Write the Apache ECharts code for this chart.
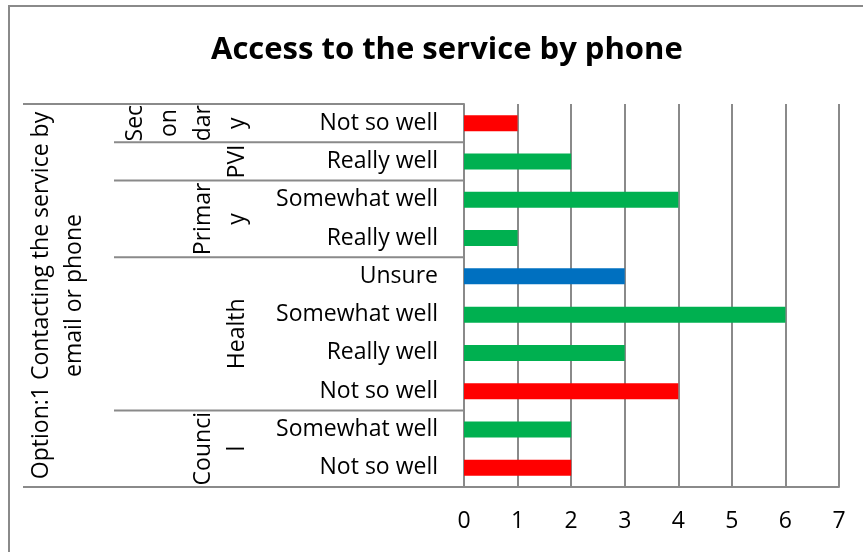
<!DOCTYPE html>
<html>
<head>
<meta charset="utf-8">
<script src="https://cdn.jsdelivr.net/npm/echarts@6/dist/echarts.min.js"></script>
<style>html,body{margin:0;padding:0;background:#fff}#c{width:863px;height:552px}</style>
</head>
<body>
<div id="c"></div>
<script>
// Rows listed top to bottom
var categories = ["Not so well","Really well","Somewhat well","Really well","Unsure","Somewhat well","Really well","Not so well","Somewhat well","Not so well"];
var values = [1,2,4,1,3,6,3,4,2,2];
// Groups (top to bottom), with the number of rows each spans; labels wrapped as in the reference
var groupLabels = ["Sec\non\ndar\ny","PVI","Primar\ny","Health","Counci\nl"];
var groupSizes = [1,1,2,4,2];
var outerLabel = "Option:1 Contacting the service by\nemail or phone";
var xTicks = [0,1,2,3,4,5,6,7];
var titleText = "Access to the service by phone";

var colorMap = {"Not so well":"#FF0000","Really well":"#00B050","Somewhat well":"#00B050","Unsure":"#0070C0"};
var FONT = "Open Sans";
var GRAY = "#8a8a8a";
var FS = 23;

var chart = echarts.init(document.getElementById('c'));
chart.setOption({
  animation:false,
  backgroundColor:'#fff',
  textStyle:{fontFamily:FONT},
  title:{text:titleText,left:206,top:30,textStyle:{fontFamily:FONT,fontWeight:'bold',fontSize:31,color:'#000'}},
  grid:{left:464,right:24,top:104,bottom:65,containLabel:false},
  xAxis:{type:'value',min:xTicks[0],max:xTicks[xTicks.length-1],interval:1,
    axisLine:{show:true,lineStyle:{color:GRAY,width:2}},
    axisTick:{show:false},
    axisLabel:{fontFamily:FONT,fontSize:FS,color:'#000',margin:23},
    splitLine:{show:true,lineStyle:{color:GRAY,width:2}}},
  yAxis:{type:'category',inverse:true,data:categories,
    axisLine:{show:true,lineStyle:{color:GRAY,width:2}},
    axisTick:{show:false},
    axisLabel:{fontFamily:FONT,fontSize:FS,color:'#000',margin:26}},
  series:[{type:'bar',barWidth:16,
    data:values.map(function(v,i){return {value:v,itemStyle:{color:colorMap[categories[i]]}};})}]
});

function drawGraphics(){
  var c0 = chart.convertToPixel({yAxisIndex:0},0);
  var c1 = chart.convertToPixel({yAxisIndex:0},1);
  var band = c1 - c0;
  var topY = c0 - band/2;
  var n = categories.length;
  var botY = topY + band*n;
  var axisX = chart.convertToPixel({xAxisIndex:0},0);
  var els = [];
  els.push({type:'rect',shape:{x:9,y:6,width:900,height:600},style:{fill:null,stroke:GRAY,lineWidth:2},silent:true,z:100});
  els.push({type:'line',shape:{x1:23,y1:topY,x2:axisX,y2:topY},style:{stroke:GRAY,lineWidth:2}});
  els.push({type:'line',shape:{x1:23,y1:botY,x2:axisX,y2:botY},style:{stroke:GRAY,lineWidth:2}});
  var start = 0;
  for (var g=0; g<groupSizes.length; g++){
    var y0 = topY + band*start;
    var y1 = topY + band*(start+groupSizes[g]);
    if (g>0) els.push({type:'line',shape:{x1:114,y1:y0,x2:axisX,y2:y0},style:{stroke:GRAY,lineWidth:2}});
    els.push({type:'text',x:254,y:(y0+y1)/2,rotation:Math.PI/2,
      style:{text:groupLabels[g],font:FS+'px "'+FONT+'"',fill:'#000',align:'center',verticalAlign:'bottom',lineHeight:34}});
    start += groupSizes[g];
  }
  els.push({type:'text',x:58,y:(topY+botY)/2,rotation:Math.PI/2,
    style:{text:outerLabel,font:FS+'px "'+FONT+'"',fill:'#000',align:'center',verticalAlign:'middle',lineHeight:33}});
  chart.setOption({graphic:{elements:els}});
}
drawGraphics();
</script>
</body>
</html>
